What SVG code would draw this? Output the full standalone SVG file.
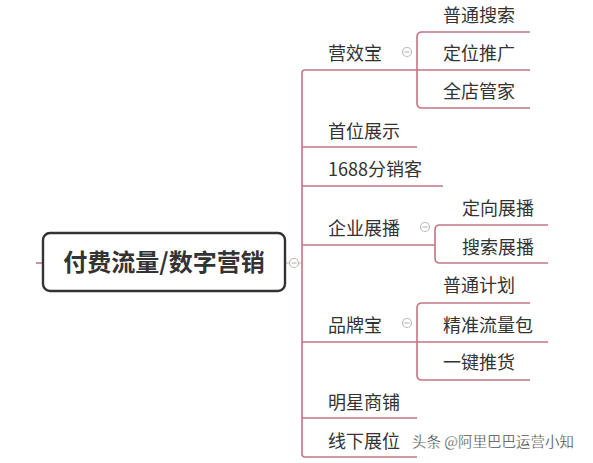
<svg xmlns="http://www.w3.org/2000/svg" width="593" height="463" viewBox="0 0 593 463">
<style>
.t{font-family:"Noto Sans CJK SC","Liberation Sans",sans-serif;font-size:18px;fill:#333;}
.c{fill:none;stroke:#c27584;stroke-width:1.6;}
.g{fill:#fff;stroke:#bbb;stroke-width:1.2;}
.gm{stroke:#bbb;stroke-width:1.2;}
</style>
<rect width="593" height="463" fill="#fff"/>
<g id="connectors">
<path class="c" d="M36,263 H43"/>
<path class="gm" d="M285,263 H290 M298,263 H302"/>
<path class="c" d="M417,70 H305 Q302,70 302,73 V454 Q302,457 305,457 H417"/>
<path class="c" d="M302,147 H417"/>
<path class="c" d="M302,186 H443"/>
<path class="c" d="M302,245 H435"/>
<path class="c" d="M302,342 H417"/>
<path class="c" d="M302,418 H417"/>
<path class="c" d="M530,32 H422 Q417,32 417,37 V103 Q417,108 422,108 H530"/>
<path class="c" d="M417,70 H530"/>
<path class="c" d="M548,225 H440 Q435,225 435,230 V258 Q435,263 440,263 H548"/>
<path class="c" d="M530,303 H422 Q417,303 417,308 V375 Q417,380 422,380 H530"/>
<path class="c" d="M417,342 H548"/>
</g>
<g id="root">
<rect x="43" y="233" width="242" height="58" rx="7" fill="#fff" stroke="#333" stroke-width="2.4"/>
<text x="164" y="271" text-anchor="middle" font-family="Noto Sans CJK SC,Liberation Sans,sans-serif" font-size="24" font-weight="bold" fill="#333">付费流量/数字营销</text>
<circle class="g" cx="294" cy="263" r="4.5"/><path class="gm" d="M291.5,263 H296.5"/>
</g>
<g id="n-yxb"><text class="t" x="328" y="60">营效宝</text><circle class="g" cx="407" cy="52" r="4.5"/><path class="gm" d="M404.5,52 H409.5"/></g>
<g id="n-ptss"><text class="t" x="443" y="22">普通搜索</text></g>
<g id="n-dwtg"><text class="t" x="443" y="60">定位推广</text></g>
<g id="n-qdgj"><text class="t" x="443" y="98">全店管家</text></g>
<g id="n-swzs"><text class="t" x="328" y="138">首位展示</text></g>
<g id="n-1688"><text class="t" x="328" y="176">1688分销客</text></g>
<g id="n-qyzb"><text class="t" x="328" y="235">企业展播</text><circle class="g" cx="425" cy="227" r="4.5"/><path class="gm" d="M422.5,227 H427.5"/></g>
<g id="n-dxzb"><text class="t" x="462" y="215">定向展播</text></g>
<g id="n-sszb"><text class="t" x="462" y="254">搜索展播</text></g>
<g id="n-ppb"><text class="t" x="328" y="332">品牌宝</text><circle class="g" cx="407" cy="323" r="4.5"/><path class="gm" d="M404.5,323 H409.5"/></g>
<g id="n-ptjh"><text class="t" x="443" y="292">普通计划</text></g>
<g id="n-jzllb"><text class="t" x="443" y="332">精准流量包</text></g>
<g id="n-yjth"><text class="t" x="443" y="369">一键推货</text></g>
<g id="n-mxsp"><text class="t" x="328" y="409">明星商铺</text></g>
<g id="n-xxzw"><text class="t" x="328" y="448">线下展位</text></g>
<text x="412" y="447" font-family="Noto Sans CJK SC,Liberation Sans,sans-serif" font-size="14.5" fill="#333" stroke="#fff" stroke-width="0.3">头条 @阿里巴巴运营小知</text>
</svg>
